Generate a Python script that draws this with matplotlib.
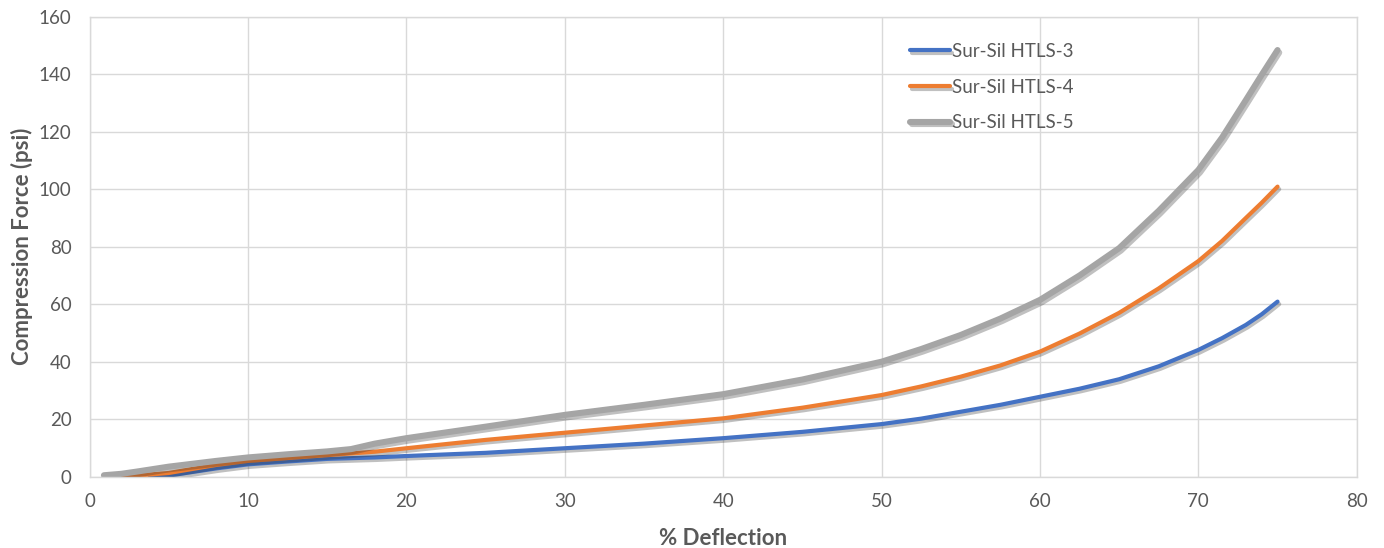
import matplotlib
matplotlib.use("Agg")
import matplotlib.pyplot as plt
import matplotlib.patheffects as pe

# ---- data ----
x_htls3 = [3.8, 5, 8, 10, 12.5, 15, 18, 20, 25, 30, 35, 40, 45, 50, 52.5, 55, 57.5, 60, 62.5, 65, 67.5, 70, 71.5, 73, 74, 75]
y_htls3 = [0, 0.4, 2.9, 4.3, 5.3, 6.2, 6.7, 7.2, 8.3, 9.9, 11.5, 13.4, 15.6, 18.3, 20.2, 22.6, 25.0, 27.8, 30.6, 33.9, 38.4, 44.1, 48.2, 52.8, 56.5, 60.9]

x_htls4 = [2.1, 3, 5, 8, 10, 12.5, 15, 18, 20, 25, 30, 35, 40, 45, 50, 52.5, 55, 57.5, 60, 62.5, 65, 67.5, 70, 71.5, 73, 74, 75]
y_htls4 = [0, 0.4, 1.3, 4.1, 5.5, 6.5, 7.5, 8.7, 9.9, 12.8, 15.3, 17.8, 20.3, 24, 28.4, 31.4, 34.8, 38.7, 43.5, 49.8, 57, 65.5, 75.0, 82, 90, 95.3, 100.9]

x_htls5 = [0.9, 2, 3, 5, 8, 10, 12.5, 15, 16.5, 18, 20, 25, 30, 35, 40, 45, 50, 52.5, 55, 57.5, 60, 62.5, 65, 67.5, 70, 71.5, 73, 74, 75]
y_htls5 = [0.5, 1, 1.8, 3.5, 5.5, 6.7, 7.8, 8.8, 9.6, 11.5, 13.4, 17.4, 21.5, 25, 28.7, 33.8, 40, 44.4, 49.3, 55, 61.5, 70, 79.5, 92.5, 106.7, 118, 131, 139.8, 148.4]

series_names = ["Sur-Sil HTLS-3", "Sur-Sil HTLS-4", "Sur-Sil HTLS-5"]
x_ticks = [0, 10, 20, 30, 40, 50, 60, 70, 80]
y_ticks = [0, 20, 40, 60, 80, 100, 120, 140, 160]

colors = ["#4472C4", "#ED7D31", "#A5A5A5"]
widths = [3.0, 3.0, 4.4]
text_color = "#595959"
grid_color = "#D9D9D9"

plt.rcParams['font.family'] = ['Lato', 'DejaVu Sans']

fig = plt.figure(figsize=(13.84, 5.48), dpi=100)
ax = fig.add_axes([0.0648, 0.1301, 0.9155, 0.8394])

data = [(x_htls3, y_htls3), (x_htls4, y_htls4), (x_htls5, y_htls5)]
for (xs, ys), name, c, lw in zip(data, series_names, colors, widths):
    ax.plot(xs, ys, color=c, lw=lw, label=name, solid_capstyle='round',
            solid_joinstyle='round',
            path_effects=[pe.SimpleLineShadow(offset=(1.2, -1.8), alpha=0.3, shadow_color='#303030'),
                          pe.Normal()])

ax.set_xlim(0, 80)
ax.set_ylim(0, 160)
ax.set_xticks(x_ticks)
ax.set_yticks(y_ticks)
ax.grid(True, color=grid_color, lw=1)
ax.set_axisbelow(True)
for s in ax.spines.values():
    s.set_color(grid_color)
    s.set_linewidth(1)
ax.tick_params(length=0, labelsize=13.5, labelcolor=text_color)
ax.tick_params(axis='x', pad=12)
ax.tick_params(axis='y', pad=13)

ax.set_xlabel("% Deflection", fontsize=16, fontweight='bold', color=text_color, labelpad=13)
ax.set_ylabel("Compression Force (psi)", fontsize=16, fontweight='bold', color=text_color, labelpad=4)

leg = ax.legend(loc='upper left', bbox_to_anchor=(0.6474, 0.943), frameon=False,
                borderaxespad=0, borderpad=0,
                fontsize=13.5, handlelength=2.13, handletextpad=0.1, labelspacing=1.0)
for t in leg.get_texts():
    t.set_color(text_color)

fig.savefig("out.png", dpi=100)
